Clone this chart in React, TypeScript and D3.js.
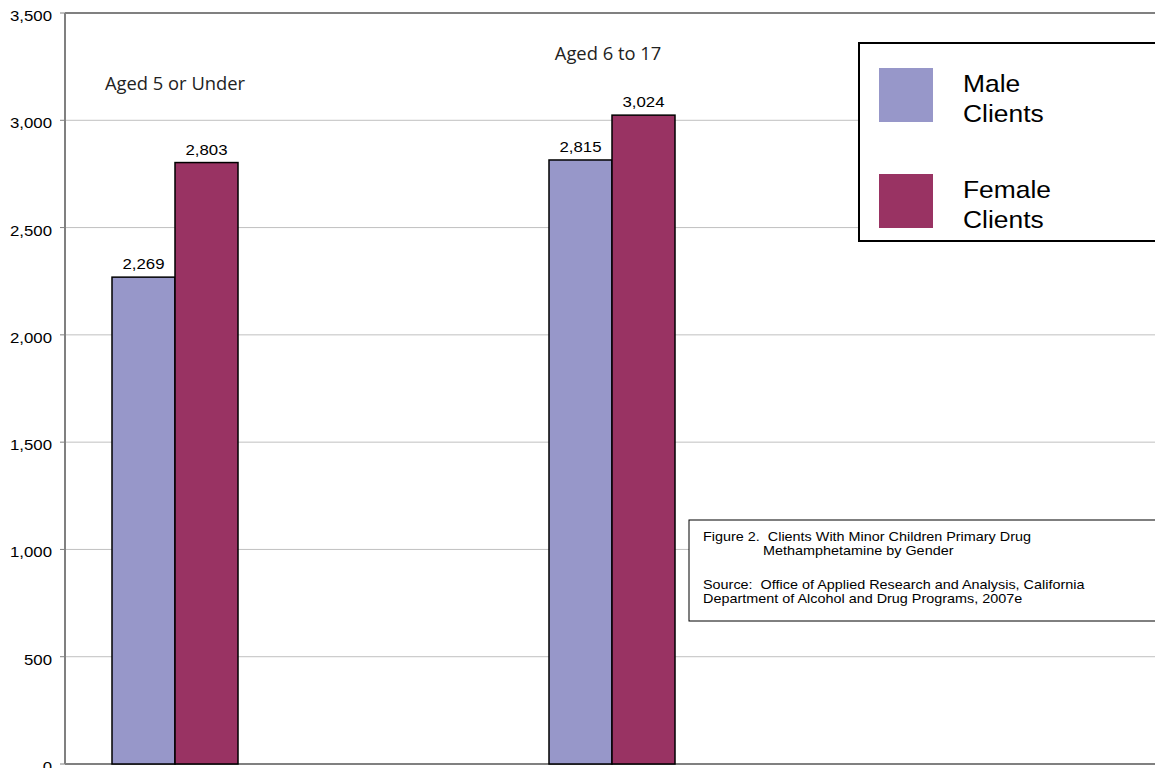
import React from "react";
import * as d3 from "d3";

const categories = ["Aged 5 or Under", "Aged 6 to 17"];
const maleValues = [2269, 2815];
const femaleValues = [2803, 3024];
const yTicks = [0, 500, 1000, 1500, 2000, 2500, 3000, 3500];
const seriesNames = ["Male Clients", "Female Clients"];
const noteLines = [
  "Figure 2.  Clients With Minor Children Primary Drug",
  "Methamphetamine by Gender",
  "Source:  Office of Applied Research and Analysis, California",
  "Department of Alcohol and Drug Programs, 2007e",
];

const W = 1155;
const H = 768;
const left = 65;
const right = 1156;
const top = 13;
const bottom = 764;
const MALE = "#9797c9";
const FEMALE = "#993363";

function SText({
  x,
  y,
  sx = 1.2,
  anchor = "start",
  size = 14,
  fill = "#000",
  family,
  children,
}: {
  x: number;
  y: number;
  sx?: number;
  anchor?: "start" | "middle" | "end";
  size?: number;
  fill?: string;
  family?: string;
  children: React.ReactNode;
}) {
  return (
    <text
      transform={`translate(${x},${y}) scale(${sx},1)`}
      textAnchor={anchor}
      fontSize={size}
      fill={fill}
      fontFamily={family}
      style={{ whiteSpace: "pre" }}
    >
      {children}
    </text>
  );
}

export default function App() {
  const y = d3.scaleLinear().domain([0, 3500]).range([bottom, top]);
  const x = d3.scalePoint<string>().domain(categories).range([175, 612]);
  const barW = 63;
  const fmt = d3.format(",");
  const catLabelPos = [
    { x: 175, y: 90 },
    { x: 608, y: 60 },
  ];

  return (
    <svg
      width={W}
      height={H}
      style={{ position: "absolute", left: 0, top: 0, background: "#fff" }}
      fontFamily="Arial, 'Liberation Sans', sans-serif"
    >
      {/* gridlines */}
      {yTicks.map((t) => (
        <line
          key={"g" + t}
          x1={left}
          x2={right}
          y1={y(t)}
          y2={y(t)}
          stroke={t === 3500 || t === 0 ? "#808080" : "#c0c0c0"}
          strokeWidth={t === 3500 || t === 0 ? 2 : 1}
        />
      ))}
      {/* ticks and labels */}
      {yTicks.map((t) => (
        <g key={"t" + t}>
          <line x1={left - 5} x2={left} y1={y(t)} y2={y(t)} stroke="#808080" strokeWidth={1} />
          <SText x={52} y={y(t) + 8} anchor="end" size={14}>
            {fmt(t)}
          </SText>
        </g>
      ))}
      {/* left axis */}
      <line x1={left} x2={left} y1={top} y2={bottom} stroke="#808080" strokeWidth={2} />

      {/* bars */}
      {categories.map((c, i) => {
        const cx = x(c) as number;
        return (
          <g key={c}>
            <rect
              x={cx - barW}
              y={y(maleValues[i])}
              width={barW}
              height={bottom - y(maleValues[i])}
              fill={MALE}
              stroke="#000"
              strokeWidth={1.5}
            />
            <rect
              x={cx}
              y={y(femaleValues[i])}
              width={barW}
              height={bottom - y(femaleValues[i])}
              fill={FEMALE}
              stroke="#000"
              strokeWidth={1.5}
            />
            <SText x={cx - barW / 2} y={y(maleValues[i]) - 8} anchor="middle" size={15} sx={1.12}>
              {fmt(maleValues[i])}
            </SText>
            <SText x={cx + barW / 2} y={y(femaleValues[i]) - 8} anchor="middle" size={15} sx={1.12}>
              {fmt(femaleValues[i])}
            </SText>
            <SText
              x={catLabelPos[i].x}
              y={catLabelPos[i].y}
              anchor="middle"
              size={18}
              sx={1.02}
              fill="#222"
              family="'Open Sans', sans-serif"
            >
              {c}
            </SText>
          </g>
        );
      })}

      {/* legend */}
      <rect x={859} y={43} width={310} height={198} fill="#fff" stroke="#000" strokeWidth={2} />
      {seriesNames.map((s, i) => {
        const [w1, w2] = s.split(" ");
        const sy = 68 + i * 106;
        return (
          <g key={s}>
            <rect x={879} y={sy} width={54} height={54} fill={i === 0 ? MALE : FEMALE} />
            <SText x={963} y={sy + 24} size={24} sx={1.1}>
              {w1}
            </SText>
            <SText x={963} y={sy + 54} size={24} sx={1.1}>
              {w2}
            </SText>
          </g>
        );
      })}

      {/* note box */}
      <rect x={689} y={520} width={480} height={101} fill="#fff" stroke="#000" strokeWidth={1} />
      <SText x={703} y={541} size={12} sx={1.2}>{noteLines[0]}</SText>
      <SText x={763} y={555} size={12} sx={1.2}>{noteLines[1]}</SText>
      <SText x={703} y={589} size={12} sx={1.2}>{noteLines[2]}</SText>
      <SText x={703} y={603} size={12} sx={1.2}>{noteLines[3]}</SText>
    </svg>
  );
}
